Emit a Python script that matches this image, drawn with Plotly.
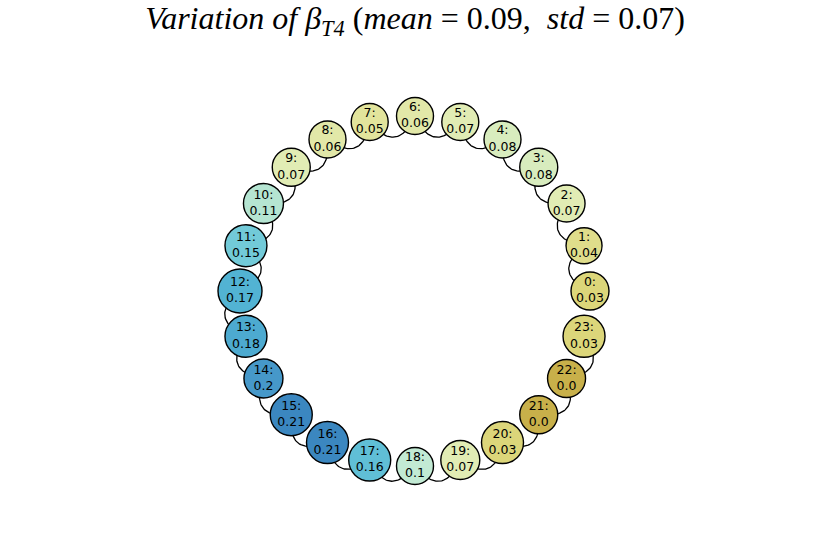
import numpy as np
import plotly.graph_objects as go

# ---- data ----
nodes = list(range(24))
values = [0.03, 0.04, 0.07, 0.08, 0.08, 0.07, 0.06, 0.05, 0.06, 0.07, 0.11, 0.15,
          0.17, 0.18, 0.2, 0.21, 0.21, 0.16, 0.1, 0.07, 0.03, 0.0, 0.0, 0.03]
value_labels = ["0.03", "0.04", "0.07", "0.08", "0.08", "0.07", "0.06", "0.05", "0.06", "0.07", "0.11", "0.15",
                "0.17", "0.18", "0.2", "0.21", "0.21", "0.16", "0.1", "0.07", "0.03", "0.0", "0.0", "0.03"]
node_diam = [38, 36, 37, 38, 37, 37, 37, 37, 37, 38, 40, 42,
             44, 42, 39, 42, 42, 42, 37, 39, 42, 38, 38, 42]
edges_inward = [(i, i + 1) for i in range(0, 12)]
edges_outward = [(i, i + 1) for i in range(12, 23)]
title_mean = 0.09
title_std = 0.07

# ---- colours (value -> colour) ----
cstops = [
    (0.00, "#c8b04a"), (0.03, "#dcd67a"), (0.05, "#e2e49c"), (0.07, "#e1ecb4"),
    (0.08, "#d8ecbe"), (0.10, "#c2ead4"), (0.11, "#b5e5d2"), (0.15, "#72cad8"),
    (0.16, "#60bfd6"), (0.17, "#52b3d3"), (0.18, "#4daad0"), (0.20, "#4698c9"),
    (0.21, "#3b87c0"),
]
vmax = 0.21
colorscale = [[v / vmax, c] for v, c in cstops]

# ---- layout of nodes on circle ----
n = len(nodes)
ang = 2 * np.pi * np.array(nodes) / n
xs = np.cos(ang)
ys = np.sin(ang)

fig = go.Figure()

def arc(i, j, sign):
    p0 = np.array([xs[i], ys[i]])
    p1 = np.array([xs[j], ys[j]])
    m = (p0 + p1) / 2
    d = np.linalg.norm(p1 - p0)
    nrm = m / np.linalg.norm(m)  # outward normal
    c = m + sign * 0.8 * d * nrm
    t = np.linspace(0, 1, 40)[:, None]
    pts = (1 - t) ** 2 * p0 + 2 * (1 - t) * t * c + t ** 2 * p1
    return pts[:, 0], pts[:, 1]

ex, ey = [], []
for (i, j) in edges_inward:
    a, b = arc(i, j, -1)
    ex += list(a) + [None]
    ey += list(b) + [None]
for (i, j) in edges_outward:
    a, b = arc(i, j, 1)
    ex += list(a) + [None]
    ey += list(b) + [None]

fig.add_trace(go.Scatter(x=ex, y=ey, mode="lines",
                         line=dict(color="black", width=1.3),
                         hoverinfo="skip", showlegend=False))

fig.add_trace(go.Scatter(
    x=xs, y=ys, mode="markers+text",
    marker=dict(size=node_diam, color=values, colorscale=colorscale, cmin=0, cmax=vmax,
                line=dict(color="black", width=1.4), opacity=1),
    text=[f"{k}:<br>{v}" for k, v in zip(nodes, value_labels)],
    textposition="middle center",
    textfont=dict(family="DejaVu Sans", size=12.5, color="black"),
    showlegend=False, hoverinfo="skip"))

W, H = 830, 554
cx, cy, R = 415, 291, 175
fig.update_layout(
    width=W, height=H,
    margin=dict(l=0, r=0, t=0, b=0),
    paper_bgcolor="white", plot_bgcolor="white",
    xaxis=dict(range=[-cx / R, (W - cx) / R], visible=False, fixedrange=True),
    yaxis=dict(range=[-(H - cy) / R, cy / R], visible=False, fixedrange=True),
    title=dict(
        text=f"<i>Variation of β</i><sub><i>T4</i></sub> (<i>mean</i> = {title_mean},  <i>std</i> = {title_std})",
        x=0.5, xanchor="center", y=0.967, yanchor="middle",
        font=dict(family="Liberation Serif", size=32, color="black")),
)

fig.write_html("out.html", config={"displayModeBar": False},
               post_script="document.body.style.margin='0';document.body.style.overflow='hidden';")
